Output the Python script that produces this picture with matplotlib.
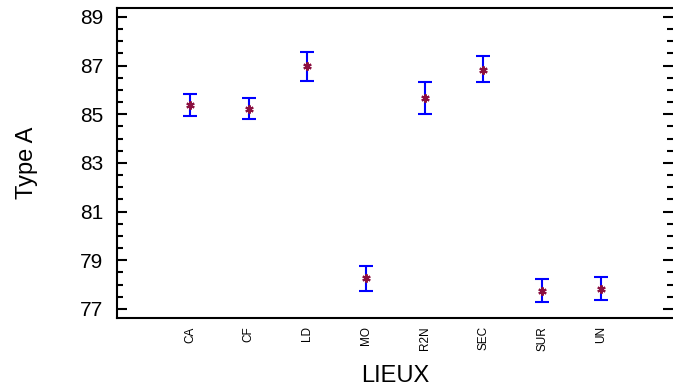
import matplotlib
matplotlib.use("Agg")
import matplotlib.pyplot as plt
from matplotlib.ticker import MultipleLocator

plt.rcParams['font.family'] = ['Liberation Sans', 'DejaVu Sans']

# means and interval limits per site
lieux = ['CA', 'CF', 'LD', 'MO', 'R2N', 'SEC', 'SUR', 'UN']
means = [85.38, 85.22, 86.96, 78.25, 85.67, 86.82, 77.73, 77.81]
lower = [84.94, 84.79, 86.38, 77.73, 85.02, 86.31, 77.29, 77.37]
upper = [85.83, 85.67, 87.54, 78.75, 86.31, 87.40, 78.24, 78.32]
yticks = [77, 79, 81, 83, 85, 87, 89]

pos = list(range(1, len(lieux) + 1))
err_lo = [m - l for m, l in zip(means, lower)]
err_hi = [u - m for m, u in zip(means, upper)]

fig = plt.figure(figsize=(6.73, 3.91), dpi=100)
ax = fig.add_axes([0.174, 0.187, 0.826, 0.793])

ax.errorbar(pos, means, yerr=[err_lo, err_hi], fmt='none', ecolor='#0000ff',
            elinewidth=1.5, capsize=5, capthick=1.5)
ax.plot(pos, means, linestyle='none', marker=(6, 2, 0), markersize=6,
        color='#8b1040', markeredgewidth=1.5)

ax.set_xlim(-0.24, 9.23)
ax.set_ylim(76.63, 89.37)
ax.set_xticks(pos)
ax.set_xticklabels(lieux, rotation=90, fontsize=8.5)
ax.tick_params(axis='x', length=0, pad=6)

ax.set_yticks(yticks)
ax.yaxis.set_minor_locator(MultipleLocator(0.5))
ax.tick_params(axis='y', which='both', direction='in', left=True, right=True,
               labelsize=15, width=1.5, pad=10)
ax.tick_params(axis='y', which='major', length=7)
ax.tick_params(axis='y', which='minor', length=4)

ax.spines['right'].set_visible(False)
for s in ['left', 'top', 'bottom']:
    ax.spines[s].set_linewidth(1.5)

ax.set_ylabel('Type A', fontsize=17, labelpad=30)
ax.set_xlabel('LIEUX', fontsize=17, labelpad=10)

fig.savefig('out.png', dpi=100)
